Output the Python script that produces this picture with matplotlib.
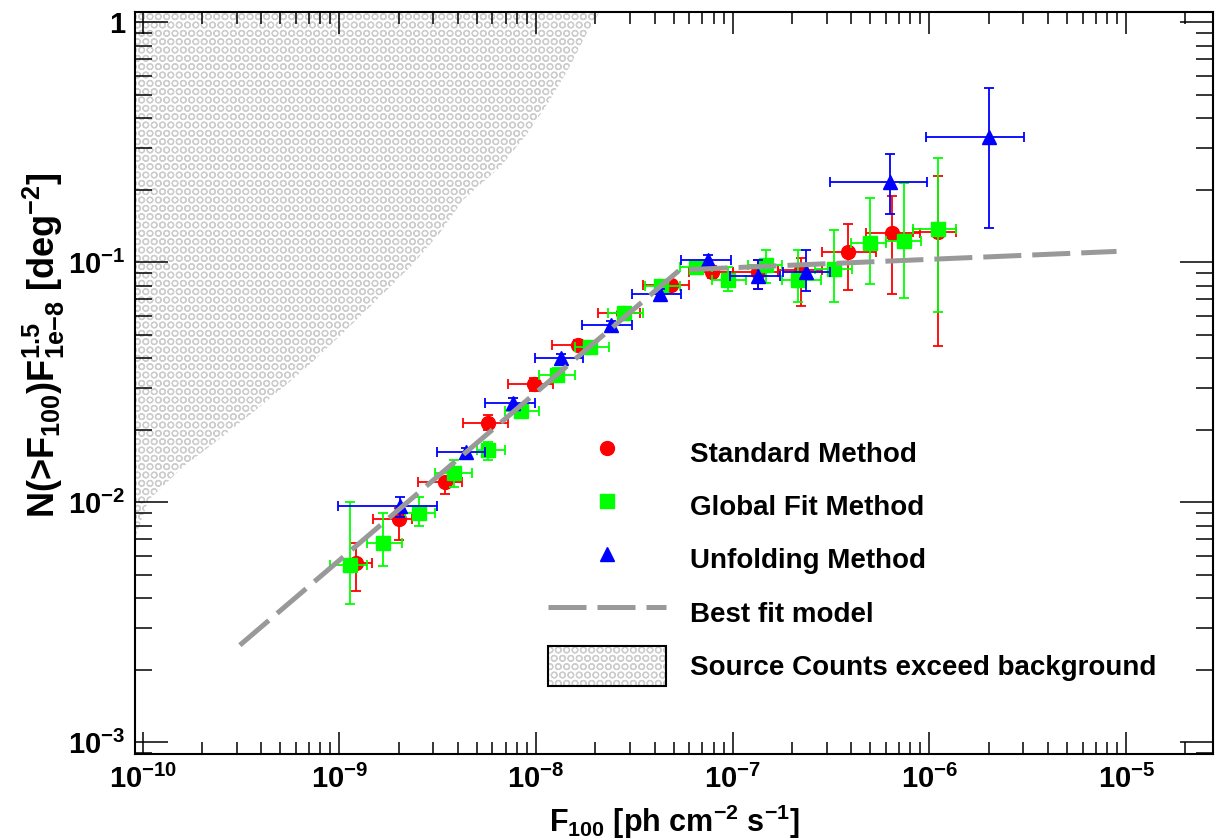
import numpy as np
import matplotlib
matplotlib.use("Agg")
import matplotlib.pyplot as plt
from matplotlib.lines import Line2D
from matplotlib.patches import Patch
from matplotlib.legend_handler import HandlerTuple
from matplotlib.ticker import LogLocator, FixedLocator, FuncFormatter, NullFormatter

plt.rcParams["font.family"] = ["Liberation Sans", "DejaVu Sans"]
plt.rcParams["font.weight"] = "bold"
plt.rcParams["axes.labelweight"] = "bold"
plt.rcParams["mathtext.default"] = "regular"
plt.rcParams["hatch.linewidth"] = 0.9

# Standard Method
std_flux = [1.22e-9, 2.01e-9, 3.44e-9, 5.70e-9, 9.79e-9, 1.634e-8, 2.757e-8,
            4.835e-8, 7.86e-8, 1.343e-7, 2.232e-7, 3.85e-7, 6.47e-7, 1.10e-6]
std_flux_lo = [1.08e-9, 1.485e-9, 2.51e-9, 4.23e-9, 7.21e-9, 1.21e-8, 2.065e-8,
               3.497e-8, 5.98e-8, 9.99e-8, 1.69e-7, 2.853e-7, 4.78e-7, 8.2e-7]
std_flux_hi = [1.47e-9, 2.33e-9, 4.18e-9, 7.21e-9, 1.216e-8, 1.949e-8, 3.365e-8,
               5.99e-8, 9.99e-8, 1.69e-7, 2.83e-7, 5.37e-7, 8.91e-7, 1.368e-6]
std_n = [5.57e-3, 8.49e-3, 1.219e-2, 2.147e-2, 3.10e-2, 4.52e-2, 6.15e-2,
         8.04e-2, 9.14e-2, 9.14e-2, 9.29e-2, 0.1104, 0.1321, 0.1337]
std_n_lo = [4.28e-3, 6.97e-3, 1.079e-2, 2.00e-2, 2.91e-2, 4.31e-2, 5.86e-2,
            7.67e-2, 8.60e-2, 7.72e-2, 6.58e-2, 7.67e-2, 7.36e-2, 4.48e-2]
std_n_hi = [6.75e-3, 9.44e-3, 1.279e-2, 2.31e-2, 3.30e-2, 4.74e-2, 6.45e-2,
            8.44e-2, 9.65e-2, 0.1022, 0.104, 0.1444, 0.1889, 0.229]

# Global Fit Method
glob_flux = [1.13e-9, 1.67e-9, 2.544e-9, 3.82e-9, 5.70e-9, 8.36e-9, 1.278e-8, 1.89e-8, 2.79e-8,
             4.30e-8, 6.53e-8, 9.45e-8, 1.47e-7, 2.145e-7, 3.256e-7, 4.96e-7, 7.39e-7, 1.103e-6]
glob_flux_lo = [8.95e-10, 1.375e-9, 2.15e-9, 3.06e-9, 4.98e-9, 6.93e-9, 1.035e-8, 1.573e-8, 2.322e-8,
                3.57e-8, 5.37e-8, 7.8e-8, 1.19e-7, 1.77e-7, 2.61e-7, 4.0e-7, 6.03e-7, 8.24e-7]
glob_flux_hi = [1.375e-9, 2.07e-9, 3.06e-9, 4.70e-9, 6.93e-9, 1.036e-8, 1.573e-8, 2.35e-8, 3.50e-8,
                5.37e-8, 7.81e-8, 1.172e-7, 1.773e-7, 2.82e-7, 4.02e-7, 6.03e-7, 9.01e-7, 1.368e-6]
glob_n = [5.48e-3, 6.75e-3, 9.05e-3, 1.32e-2, 1.652e-2, 2.40e-2, 3.39e-2, 4.45e-2, 6.17e-2,
          7.96e-2, 9.56e-2, 8.44e-2, 9.75e-2, 8.44e-2, 9.35e-2, 0.1207, 0.1227, 0.1373]
glob_n_lo = [3.77e-3, 5.43e-3, 7.96e-3, 1.161e-2, 1.50e-2, 2.25e-2, 3.17e-2, 4.22e-2, 5.86e-2,
             7.5e-2, 8.98e-2, 7.57e-2, 8.18e-2, 6.85e-2, 6.85e-2, 8.12e-2, 7.08e-2, 6.19e-2]
glob_n_hi = [1.006e-2, 9.0e-3, 1.055e-2, 1.50e-2, 1.789e-2, 2.57e-2, 3.63e-2, 4.70e-2, 6.48e-2,
             8.44e-2, 0.1012, 9.56e-2, 0.1125, 0.1125, 0.1363, 0.1848, 0.2147, 0.2713]

# Unfolding Method
unf_flux = [2.03e-9, 4.39e-9, 7.59e-9, 1.346e-8, 2.416e-8, 4.29e-8, 7.48e-8,
            1.343e-7, 2.346e-7, 6.32e-7, 2.0e-6]
unf_flux_lo = [9.86e-10, 3.12e-9, 5.49e-9, 9.85e-9, 1.72e-8, 3.09e-8, 5.46e-8,
               9.64e-8, 1.80e-7, 3.11e-7, 9.63e-7]
unf_flux_hi = [3.12e-9, 5.49e-9, 9.85e-9, 1.733e-8, 3.09e-8, 5.48e-8, 9.76e-8,
               1.73e-7, 3.11e-7, 9.7e-7, 3.04e-6]
unf_n = [9.65e-3, 1.625e-2, 2.60e-2, 3.98e-2, 5.48e-2, 7.41e-2, 0.1027,
         8.77e-2, 9.14e-2, 0.2168, 0.3318]
unf_n_lo = [8.71e-3, 1.559e-2, 2.494e-2, 3.80e-2, 5.27e-2, 7.10e-2, 9.84e-2,
            7.72e-2, 7.57e-2, 0.159, 0.1386]
unf_n_hi = [1.055e-2, 1.683e-2, 2.72e-2, 4.15e-2, 5.69e-2, 7.74e-2, 0.1073,
            0.1022, 0.1125, 0.2818, 0.531]

# best fit broken power law
fit_flux = [3.12e-10, 5.37e-8, 8.93e-6]
fit_n = [2.54e-3, 9.29e-2, 0.111]

# edge of the region where source counts exceed the background
bkg_flux = [2.11e-8, 1.81e-8, 1.48e-8, 1.175e-8, 9.08e-9, 6.55e-9, 4.25e-9, 3.24e-9,
            2.29e-9, 1.552e-9, 1.042e-9, 6.84e-10, 4.34e-10, 2.69e-10, 1.60e-10, 1.07e-10, 9.2e-11]
bkg_n = [1.107, 0.902, 0.652, 0.474, 0.346, 0.249, 0.182, 0.1324,
         0.0955, 0.0697, 0.0507, 0.0366, 0.0267, 0.01945, 0.01403, 0.0102, 7.2e-3]

x_major = [1e-10, 1e-9, 1e-8, 1e-7, 1e-6, 1e-5]
y_major = [1e-3, 1e-2, 1e-1, 1.0]

GRAY = "#999999"
HATCH_GRAY = "#cdcdcd"


def asym(v, lo, hi):
    v, lo, hi = np.asarray(v), np.asarray(lo), np.asarray(hi)
    return [v - lo, hi - v]


fig = plt.figure(figsize=(12.15, 8.4), dpi=100)
ax = fig.add_axes([0.1111, 0.1024, 0.8872, 0.8837])
ax.set_xscale("log")
ax.set_yscale("log")
ax.set_xlim(9.14e-11, 2.76e-5)
ax.set_ylim(8.94e-4, 1.107)

# hatched exclusion region
poly_x = bkg_flux + [1e-12, 1e-12, bkg_flux[0]]
poly_y = bkg_n + [bkg_n[-1], 10.0, 10.0]
ax.fill(poly_x, poly_y, facecolor="none", edgecolor=HATCH_GRAY, hatch="OO",
        linewidth=0, zorder=1)

eb = dict(elinewidth=1.3, capsize=3.8, capthick=1.3, linestyle="none")
ax.errorbar(std_flux, std_n, xerr=asym(std_flux, std_flux_lo, std_flux_hi),
            yerr=asym(std_n, std_n_lo, std_n_hi), marker="o", ms=10,
            color="#ff0000", zorder=3, **eb)
ax.errorbar(glob_flux, glob_n, xerr=asym(glob_flux, glob_flux_lo, glob_flux_hi),
            yerr=asym(glob_n, glob_n_lo, glob_n_hi), marker="s", ms=10.5,
            color="#00ff00", zorder=4, **eb)
ax.errorbar(unf_flux, unf_n, xerr=asym(unf_flux, unf_flux_lo, unf_flux_hi),
            yerr=asym(unf_n, unf_n_lo, unf_n_hi), marker="^", ms=9.5,
            color="#0000ff", zorder=5, **eb)

ax.plot(fit_flux, fit_n, color=GRAY, lw=3.6, dashes=(7.6, 2.2),
        solid_capstyle="butt", zorder=6)

# axes styling
def log_label(v, pos):
    if np.isclose(v, 1.0):
        return "1"
    return r"$\mathdefault{10^{%d}}$" % round(np.log10(v))

ax.xaxis.set_major_locator(FixedLocator(x_major))
ax.yaxis.set_major_locator(FixedLocator(y_major))
for axis in (ax.xaxis, ax.yaxis):
    axis.set_minor_locator(LogLocator(base=10, subs=np.arange(2, 10), numticks=20))
    axis.set_major_formatter(FuncFormatter(log_label))
    axis.set_minor_formatter(NullFormatter())

ax.tick_params(which="both", direction="in", top=True, right=True,
               labelsize=21, width=1.1)
ax.tick_params(axis="x", which="major", length=15.8, pad=8)
ax.tick_params(axis="x", which="minor", length=8.6)
ax.tick_params(axis="y", which="major", length=23.8, pad=7)
ax.tick_params(axis="y", which="minor", length=12.2)
for sp in ax.spines.values():
    sp.set_linewidth(1.5)

ax.set_xlabel(r"F$_{100}$ [ph cm$^{-2}$ s$^{-1}$]", fontsize=22)
ax.xaxis.set_label_coords(0.5, -0.066)
ax.set_ylabel(r"N(>F$_{100}$)F$^{1.5}_{1e{-}8}$ [deg$^{-2}$]", fontsize=26)
ax.yaxis.set_label_coords(-0.063, 0.551)

handles = [
    Line2D([], [], marker="o", ls="none", color="#ff0000", ms=10),
    Line2D([], [], marker="s", ls="none", color="#00ff00", ms=10.5),
    Line2D([], [], marker="^", ls="none", color="#0000ff", ms=9.5),
    Line2D([], [], color=GRAY, lw=3.6, dashes=(7.6, 2.2)),
    (Patch(facecolor="none", edgecolor=HATCH_GRAY, hatch="OO", linewidth=0),
     Patch(facecolor="none", edgecolor="black", linewidth=1.5)),
]
labels = ["Standard Method", "Global Fit Method", "Unfolding Method",
          "Best fit model", "Source Counts exceed background"]
ax.legend(handles, labels, loc="upper left", bbox_to_anchor=(0.383, 0.4320),
          frameon=False, fontsize=20, handlelength=4.25, handleheight=1.84,
          handletextpad=0.86, labelspacing=0.47, borderpad=0, borderaxespad=0,
          handler_map={tuple: HandlerTuple(ndivide=1)})

fig.savefig("out.png", dpi=100)
